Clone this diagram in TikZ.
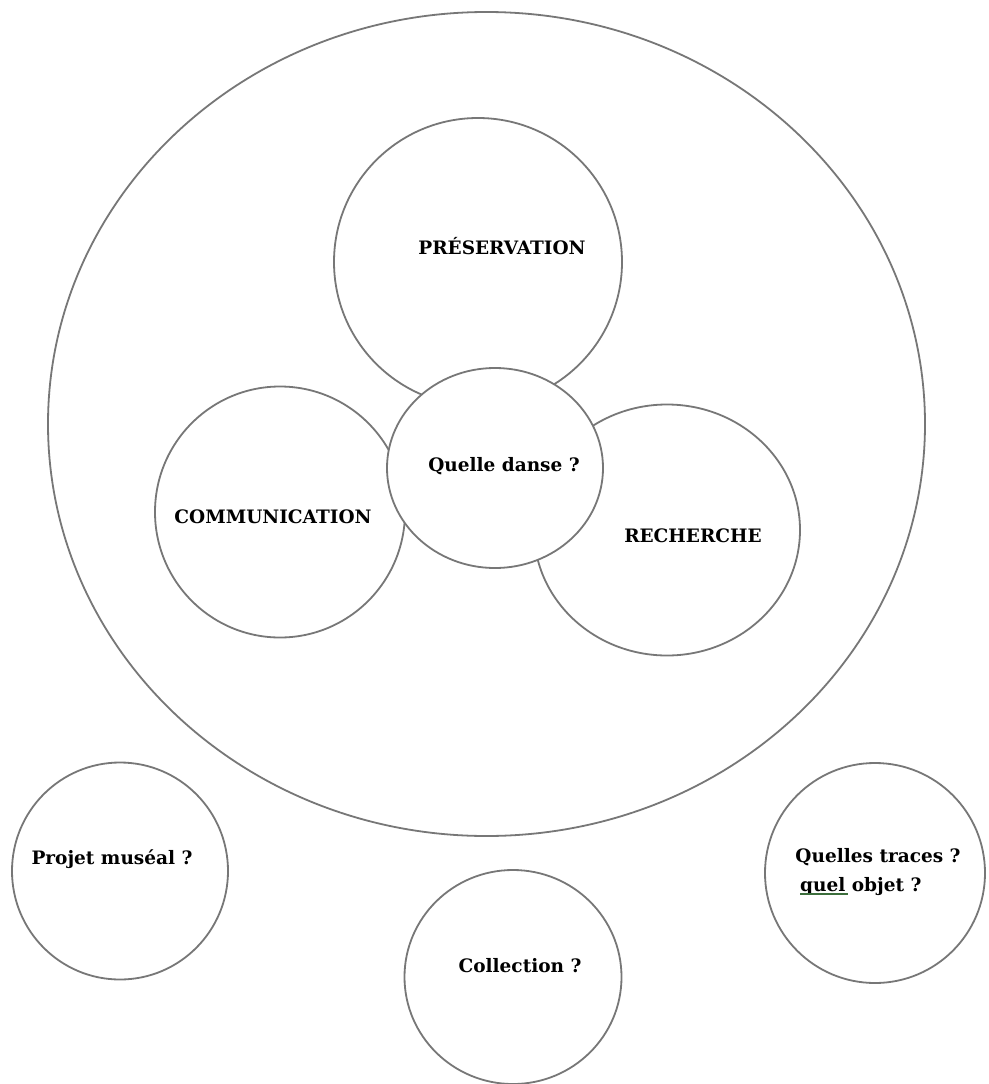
\documentclass[tikz,border=0pt]{standalone}
\usepackage{fontspec}
\setmainfont{DejaVu Serif}
\usetikzlibrary{shapes.geometric}
\definecolor{linegray}{HTML}{777777}
\definecolor{ulgreen}{HTML}{3C6E3C}
\tikzset{
  bubble/.style={ellipse, draw=linegray, line width=1.8pt, fill=white, inner sep=0pt, outer sep=0pt},
  lbl/.style={font=\bfseries\fontsize{18.5}{22}\selectfont, inner sep=0pt, anchor=base, text=black},
  squiggle/.style={draw=ulgreen, line width=1.2pt}
}
\begin{document}
\begin{tikzpicture}[x=1pt,y=-1pt]
\useasboundingbox[fill=white] (0,0) rectangle (988,1084);
% large enclosing ellipse
\node[bubble, minimum width=877, minimum height=824] (outer) at (486.5,424) {};
% three petals
\node[bubble, minimum width=288, minimum height=288] (pres) at (478,262) {};
\node[bubble, minimum width=250, minimum height=251] (comm) at (280,512) {};
\node[bubble, minimum width=266, minimum height=251] (rech) at (667,530) {};
% centre
\node[bubble, minimum width=216, minimum height=200] (danse) at (495,468) {};
% outside circles
\node[bubble, minimum width=216, minimum height=217] (projet) at (120,871) {};
\node[bubble, minimum width=217, minimum height=214] (coll) at (513,977) {};
\node[bubble, minimum width=220, minimum height=220] (traces) at (875,873) {};
% labels
\node[lbl] (tpres) at (502,254) {PRÉSERVATION};
\node[lbl] (tdanse) at (504,471) {Quelle danse ?};
\node[lbl] (tcomm) at (273,523) {COMMUNICATION};
\node[lbl] (trech) at (693,542) {RECHERCHE};
\node[lbl] (tprojet) at (112,864) {Projet muséal ?};
\node[lbl] (tcoll) at (520,972) {Collection ?};
\node[lbl] (ttraces) at (878,862) {Quelles traces ?};
\node[lbl, anchor=base west] (tobjet) at (800,891) {quel objet ?};
\draw[squiggle] ([yshift=-3pt]tobjet.base west) -- ++(48,0);
\end{tikzpicture}
\end{document}
